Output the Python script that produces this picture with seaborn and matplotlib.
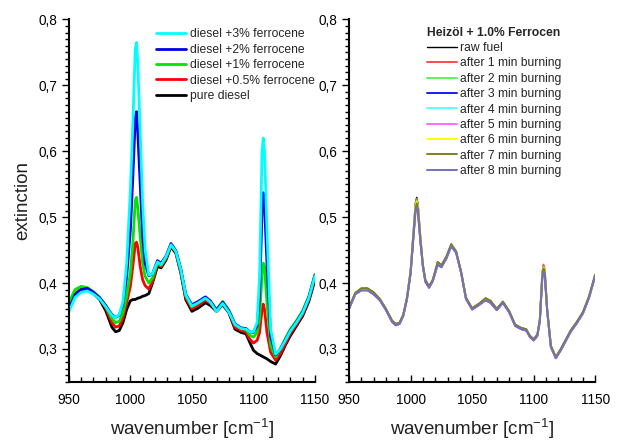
import matplotlib
matplotlib.use("Agg")
import matplotlib.pyplot as plt
import seaborn as sns
from matplotlib.ticker import MultipleLocator, FuncFormatter

# wavenumber grid [cm-1] (shared by all spectra)
wavenumber = [950, 955, 960, 965, 970, 975, 980, 985,
              988, 991, 994, 997, 1000, 1002, 1004, 1005, 1006, 1008,
              1010, 1012, 1015, 1018, 1022, 1025, 1029, 1033, 1037, 1041, 1045,
              1050, 1055, 1061, 1065, 1070, 1075, 1080, 1085, 1090, 1094, 1097, 1100,
              1103, 1105, 1107, 1108, 1109, 1111, 1114, 1118, 1122, 1126, 1130, 1135, 1140, 1145, 1150]

# left panel: diesel with ferrocene
diesel_3 = [0.356, 0.378, 0.386, 0.388, 0.383, 0.376, 0.364, 0.351,
            0.348, 0.352, 0.372, 0.430, 0.540, 0.640, 0.755, 0.765, 0.735, 0.630,
            0.520, 0.450, 0.412, 0.414, 0.432, 0.428, 0.440, 0.458, 0.448, 0.420, 0.382,
            0.365, 0.370, 0.377, 0.371, 0.357, 0.369, 0.356, 0.337, 0.331, 0.330, 0.326, 0.326,
            0.340, 0.410, 0.600, 0.620, 0.600, 0.480, 0.330, 0.292, 0.300, 0.313, 0.327, 0.340, 0.355, 0.377, 0.411]
diesel_2 = [0.360, 0.382, 0.390, 0.392, 0.386, 0.378, 0.366, 0.352,
            0.348, 0.351, 0.368, 0.410, 0.480, 0.560, 0.650, 0.660, 0.630, 0.550,
            0.470, 0.430, 0.411, 0.414, 0.434, 0.430, 0.441, 0.460, 0.449, 0.421, 0.383,
            0.367, 0.372, 0.379, 0.373, 0.359, 0.371, 0.358, 0.338, 0.332, 0.331, 0.326, 0.325,
            0.335, 0.380, 0.510, 0.537, 0.520, 0.430, 0.320, 0.291, 0.300, 0.314, 0.328, 0.341, 0.356, 0.378, 0.412]
diesel_1 = [0.370, 0.390, 0.395, 0.393, 0.387, 0.378, 0.365, 0.346,
            0.340, 0.342, 0.355, 0.380, 0.415, 0.460, 0.525, 0.530, 0.515, 0.470,
            0.430, 0.410, 0.400, 0.408, 0.430, 0.427, 0.439, 0.458, 0.448, 0.420, 0.381,
            0.364, 0.370, 0.377, 0.372, 0.360, 0.372, 0.359, 0.337, 0.331, 0.330, 0.321, 0.318,
            0.325, 0.345, 0.415, 0.430, 0.425, 0.370, 0.305, 0.288, 0.301, 0.316, 0.330, 0.343, 0.358, 0.380, 0.413]
diesel_05 = [0.362, 0.384, 0.391, 0.391, 0.385, 0.377, 0.362, 0.340,
             0.333, 0.335, 0.347, 0.370, 0.395, 0.425, 0.460, 0.462, 0.455, 0.425,
             0.405, 0.396, 0.391, 0.402, 0.428, 0.425, 0.437, 0.457, 0.447, 0.418, 0.378,
             0.361, 0.366, 0.374, 0.369, 0.358, 0.369, 0.357, 0.333, 0.328, 0.326, 0.315, 0.309,
             0.313, 0.325, 0.360, 0.368, 0.360, 0.325, 0.295, 0.283, 0.293, 0.308, 0.323, 0.337, 0.352, 0.375, 0.409]
diesel_pure = [0.365, 0.383, 0.389, 0.390, 0.384, 0.375, 0.358, 0.333,
               0.326, 0.328, 0.340, 0.360, 0.373, 0.375, 0.375, 0.376, 0.377, 0.378,
               0.380, 0.381, 0.384, 0.400, 0.425, 0.423, 0.435, 0.455, 0.445, 0.415, 0.375,
               0.357, 0.362, 0.370, 0.366, 0.357, 0.367, 0.355, 0.330, 0.325, 0.323, 0.310, 0.298,
               0.293, 0.291, 0.289, 0.288, 0.287, 0.285, 0.281, 0.277, 0.290, 0.306, 0.320, 0.335, 0.350, 0.372, 0.405]

left_labels = ["diesel +3% ferrocene", "diesel +2% ferrocene", "diesel +1% ferrocene",
               "diesel +0.5% ferrocene", "pure diesel"]
left_colors = ["#00ffff", "#0000e6", "#00e600", "#ff0000", "#000000"]

# right panel: heating oil + 1.0% ferrocene after burning
raw_fuel = [0.363, 0.385, 0.392, 0.392, 0.386, 0.376, 0.361, 0.343,
            0.338, 0.340, 0.352, 0.378, 0.420, 0.470, 0.522, 0.530, 0.520, 0.470,
            0.428, 0.405, 0.395, 0.405, 0.432, 0.427, 0.440, 0.459, 0.448, 0.418, 0.378,
            0.362, 0.368, 0.377, 0.373, 0.361, 0.372, 0.358, 0.337, 0.332, 0.330, 0.320, 0.315,
            0.322, 0.345, 0.415, 0.426, 0.420, 0.360, 0.305, 0.288, 0.300, 0.314, 0.328, 0.341, 0.356, 0.380, 0.413]
burn_1 = [0.362, 0.384, 0.391, 0.391, 0.385, 0.375, 0.360, 0.342,
          0.337, 0.339, 0.351, 0.377, 0.419, 0.469, 0.520, 0.528, 0.518, 0.469,
          0.427, 0.404, 0.394, 0.404, 0.431, 0.426, 0.439, 0.458, 0.447, 0.417, 0.377,
          0.361, 0.367, 0.376, 0.372, 0.360, 0.371, 0.357, 0.336, 0.331, 0.329, 0.319, 0.314,
          0.321, 0.344, 0.416, 0.428, 0.421, 0.359, 0.304, 0.287, 0.299, 0.313, 0.327, 0.340, 0.355, 0.379, 0.412]
burn_2 = [0.362, 0.384, 0.390, 0.390, 0.384, 0.375, 0.360, 0.342,
          0.337, 0.339, 0.351, 0.377, 0.418, 0.468, 0.518, 0.525, 0.516, 0.468,
          0.427, 0.404, 0.394, 0.404, 0.430, 0.426, 0.438, 0.458, 0.447, 0.417, 0.377,
          0.361, 0.367, 0.375, 0.371, 0.360, 0.371, 0.357, 0.336, 0.331, 0.329, 0.319, 0.314,
          0.321, 0.344, 0.413, 0.424, 0.419, 0.359, 0.304, 0.287, 0.299, 0.313, 0.327, 0.340, 0.355, 0.379, 0.412]
burn_3 = [0.361, 0.383, 0.389, 0.389, 0.383, 0.374, 0.359, 0.341,
          0.336, 0.338, 0.350, 0.375, 0.415, 0.463, 0.510, 0.516, 0.508, 0.463,
          0.425, 0.402, 0.393, 0.403, 0.428, 0.424, 0.437, 0.456, 0.446, 0.416, 0.376,
          0.360, 0.366, 0.374, 0.370, 0.359, 0.370, 0.356, 0.335, 0.330, 0.328, 0.318, 0.313,
          0.320, 0.342, 0.408, 0.418, 0.413, 0.357, 0.303, 0.286, 0.298, 0.312, 0.326, 0.339, 0.354, 0.378, 0.411]
burn_4 = [0.361, 0.383, 0.390, 0.390, 0.384, 0.374, 0.360, 0.342,
          0.337, 0.339, 0.351, 0.376, 0.417, 0.466, 0.515, 0.522, 0.513, 0.466,
          0.426, 0.403, 0.394, 0.404, 0.429, 0.425, 0.438, 0.457, 0.447, 0.417, 0.377,
          0.361, 0.367, 0.375, 0.371, 0.360, 0.371, 0.357, 0.336, 0.331, 0.329, 0.319, 0.314,
          0.321, 0.343, 0.411, 0.421, 0.416, 0.358, 0.304, 0.287, 0.299, 0.313, 0.327, 0.340, 0.355, 0.379, 0.412]
burn_5 = [0.361, 0.383, 0.390, 0.390, 0.384, 0.374, 0.359, 0.341,
          0.336, 0.338, 0.350, 0.376, 0.416, 0.465, 0.513, 0.519, 0.511, 0.465,
          0.426, 0.403, 0.393, 0.403, 0.429, 0.425, 0.438, 0.457, 0.446, 0.416, 0.376,
          0.360, 0.366, 0.375, 0.371, 0.359, 0.370, 0.356, 0.335, 0.330, 0.328, 0.318, 0.313,
          0.320, 0.343, 0.410, 0.420, 0.415, 0.358, 0.303, 0.286, 0.298, 0.312, 0.326, 0.339, 0.354, 0.378, 0.411]
burn_6 = [0.362, 0.384, 0.391, 0.391, 0.385, 0.375, 0.360, 0.342,
          0.337, 0.339, 0.351, 0.377, 0.418, 0.467, 0.516, 0.523, 0.514, 0.467,
          0.427, 0.404, 0.394, 0.404, 0.431, 0.426, 0.439, 0.458, 0.447, 0.417, 0.377,
          0.361, 0.367, 0.376, 0.372, 0.360, 0.371, 0.357, 0.336, 0.331, 0.329, 0.319, 0.314,
          0.321, 0.344, 0.413, 0.423, 0.418, 0.359, 0.304, 0.287, 0.299, 0.313, 0.327, 0.340, 0.355, 0.379, 0.412]
burn_7 = [0.363, 0.385, 0.392, 0.392, 0.386, 0.376, 0.361, 0.343,
          0.338, 0.340, 0.352, 0.377, 0.417, 0.466, 0.514, 0.521, 0.513, 0.466,
          0.427, 0.405, 0.395, 0.405, 0.432, 0.427, 0.440, 0.459, 0.448, 0.418, 0.378,
          0.362, 0.368, 0.377, 0.373, 0.361, 0.372, 0.358, 0.337, 0.332, 0.330, 0.320, 0.315,
          0.322, 0.344, 0.412, 0.422, 0.417, 0.360, 0.305, 0.288, 0.300, 0.314, 0.328, 0.341, 0.356, 0.380, 0.413]
burn_8 = [0.361, 0.383, 0.389, 0.389, 0.383, 0.374, 0.359, 0.341,
          0.336, 0.338, 0.350, 0.375, 0.414, 0.462, 0.509, 0.515, 0.507, 0.462,
          0.425, 0.402, 0.393, 0.403, 0.428, 0.424, 0.437, 0.456, 0.446, 0.416, 0.376,
          0.360, 0.366, 0.374, 0.370, 0.359, 0.370, 0.356, 0.335, 0.330, 0.328, 0.318, 0.313,
          0.320, 0.342, 0.407, 0.417, 0.412, 0.357, 0.303, 0.286, 0.298, 0.312, 0.326, 0.339, 0.354, 0.378, 0.411]

right_labels = ["raw fuel"] + [f"after {i} min burning" for i in range(1, 9)]
right_colors = ["#000000", "#ff4c4c", "#5cf55c", "#1a1aff", "#5cffff",
                "#ff6cff", "#ffff00", "#7f7f20", "#7272b8"]

sns.set_theme(style="ticks")
plt.rcParams["font.family"] = ["Liberation Sans", "DejaVu Sans"]
plt.rcParams["mathtext.fontset"] = "custom"
plt.rcParams["mathtext.rm"] = "Liberation Sans"
plt.rcParams["mathtext.it"] = "Liberation Sans:italic"
plt.rcParams["mathtext.default"] = "regular"

fig = plt.figure(figsize=(6.2, 4.4), dpi=100)
ax1 = fig.add_axes([0.111, 0.132, 0.397, 0.824])
ax2 = fig.add_axes([0.563, 0.132, 0.397, 0.824])

left_series = [diesel_3, diesel_2, diesel_1, diesel_05, diesel_pure]
# draw pure diesel first so the ferrocene curves sit on top
for vals, lab, col in reversed(list(zip(left_series, left_labels, left_colors))):
    sns.lineplot(x=wavenumber, y=vals, color=col, lw=2, label=lab, ax=ax1)

right_series = [raw_fuel, burn_1, burn_2, burn_3, burn_4, burn_5, burn_6, burn_7, burn_8]
for i, (vals, lab, col) in enumerate(zip(right_series, right_labels, right_colors)):
    sns.lineplot(x=wavenumber, y=vals, color=col, lw=1.0 if i == 0 else 1.4, label=lab, ax=ax2)

comma = FuncFormatter(lambda v, p: f"{v:.1f}".replace(".", ","))
for ax in (ax1, ax2):
    ax.set_xlim(950, 1150)
    ax.set_ylim(0.25, 0.8)
    ax.xaxis.set_major_locator(MultipleLocator(50))
    ax.xaxis.set_minor_locator(MultipleLocator(10))
    ax.yaxis.set_major_locator(MultipleLocator(0.1))
    ax.yaxis.set_minor_locator(MultipleLocator(0.01))
    ax.yaxis.set_major_formatter(comma)
    ax.tick_params(axis="x", which="both", direction="in", width=1, colors="black", labelsize=9.8, pad=8)
    ax.tick_params(axis="x", which="major", length=5)
    ax.tick_params(axis="x", which="minor", length=3.5)
    ax.tick_params(axis="y", which="both", direction="out", width=1, colors="black", labelsize=9.8)
    ax.tick_params(axis="y", which="major", length=5)
    ax.tick_params(axis="y", which="minor", length=3)
    sns.despine(ax=ax)
    for s in ("left", "bottom"):
        ax.spines[s].set_linewidth(1.5)
        ax.spines[s].set_color("black")
    ax.set_xlabel(r"wavenumber [cm$^{-1}$]", fontsize=13.5, labelpad=7, color="#222222")

ax1.set_ylabel("extinction", fontsize=13.5, labelpad=5, color="#222222")
ax2.set_ylabel("")

h, l = ax1.get_legend_handles_labels()
ax1.legend(h[::-1], l[::-1], loc="upper left", bbox_to_anchor=(0.355, 0.975),
           frameon=False, fontsize=8.7, handlelength=2.5, handletextpad=0.3,
           labelspacing=0.28, borderpad=0, borderaxespad=0)

ax2.legend(loc="upper left", bbox_to_anchor=(0.315, 0.98), frameon=False,
           fontsize=8.7, handlelength=2.5, handletextpad=0.3, labelspacing=0.28,
           borderpad=0, borderaxespad=0, title="Heizöl + 1.0% Ferrocen",
           title_fontproperties={"weight": "bold", "size": 8.7}, alignment="left")

fig.savefig("out.png", dpi=100)
